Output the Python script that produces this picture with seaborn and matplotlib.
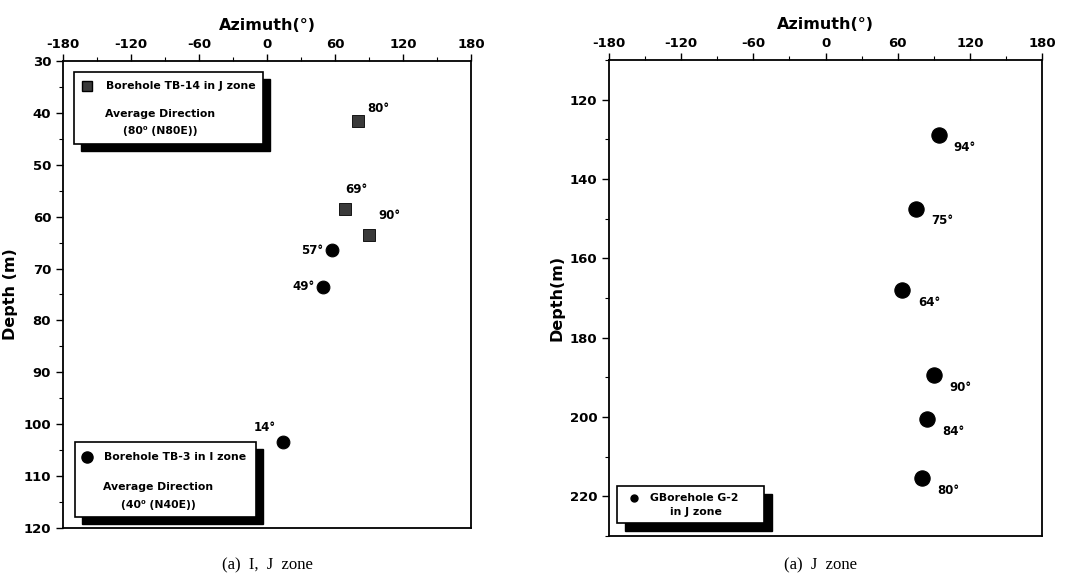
import matplotlib.pyplot as plt
import seaborn as sns
import pandas as pd
from matplotlib.patches import Rectangle
from matplotlib.ticker import MultipleLocator

# left panel: I, J zone
tb14_azimuth = [80, 69, 90]
tb14_depth = [41.5, 58.5, 63.5]
tb14_labels = ['80°', '69°', '90°']
tb3_azimuth = [57, 49, 14]
tb3_depth = [66.5, 73.5, 103.5]
tb3_labels = ['57°', '49°', '14°']

# right panel: J zone
g2_azimuth = [94, 75, 64, 90, 84, 80]
g2_depth = [129, 147.5, 168, 189.5, 200.5, 215.5]
g2_labels = ['94°', '75°', '64°', '90°', '84°', '80°']

W, H = 1075, 580


def px_box(fig, x0, y0, x1, y1, shadow=7):
    # white legend box with black drop shadow, given in pixel coords (top-down)
    fig.add_artist(Rectangle(((x0 + shadow) / W, 1 - (y1 + shadow) / H),
                             (x1 - x0) / W, (y1 - y0) / H,
                             transform=fig.transFigure, facecolor='black',
                             edgecolor='black', zorder=5))
    fig.add_artist(Rectangle((x0 / W, 1 - y1 / H), (x1 - x0) / W, (y1 - y0) / H,
                             transform=fig.transFigure, facecolor='white',
                             edgecolor='black', lw=1.2, zorder=6))


def px_text(fig, x, y, s, **kw):
    fig.text(x / W, 1 - y / H, s, zorder=7, fontweight='bold', **kw)


def px_marker(fig, x, y, **kw):
    fig.add_artist(plt.Line2D([x / W], [1 - y / H], transform=fig.transFigure,
                              zorder=7, **kw))


def style_axis(ax, ymin, ymax, ymajor, yminor):
    ax.set_xlim(-180, 180)
    ax.set_ylim(ymax, ymin)
    ax.xaxis.set_major_locator(MultipleLocator(60))
    ax.xaxis.set_minor_locator(MultipleLocator(30))
    ax.yaxis.set_major_locator(MultipleLocator(ymajor))
    ax.yaxis.set_minor_locator(MultipleLocator(yminor))
    ax.xaxis.tick_top()
    ax.xaxis.set_label_position('top')
    ax.tick_params(axis='x', which='major', direction='out', length=5, width=1,
                   labelsize=9.5, pad=2)
    ax.tick_params(axis='x', which='minor', direction='out', length=3, width=0.8)
    ax.tick_params(axis='y', which='major', direction='out', length=5, width=1,
                   labelsize=9.5)
    ax.tick_params(axis='y', which='minor', direction='out', length=3, width=0.8)
    for lab in ax.get_xticklabels() + ax.get_yticklabels():
        lab.set_fontweight('bold')
    for sp in ax.spines.values():
        sp.set_visible(True)
        sp.set_color('black')
        sp.set_linewidth(1.3)
    ax.set_xlabel('Azimuth(°)', fontsize=11.5, fontweight='bold', labelpad=6)


def main():
    sns.set_style('ticks')
    plt.rcParams['font.family'] = ['DejaVu Sans']
    plt.rcParams['axes.unicode_minus'] = False
    for k in ['text.color', 'axes.labelcolor', 'xtick.color', 'ytick.color']:
        plt.rcParams[k] = 'black'

    fig = plt.figure(figsize=(W / 100, H / 100), dpi=100)
    ax1 = fig.add_axes([63 / W, 1 - 528 / H, 408 / W, 467 / H])
    ax2 = fig.add_axes([609 / W, 1 - 536 / H, 433 / W, 476 / H])

    df14 = pd.DataFrame({'azimuth': tb14_azimuth, 'depth': tb14_depth})
    df3 = pd.DataFrame({'azimuth': tb3_azimuth, 'depth': tb3_depth})
    dfg = pd.DataFrame({'azimuth': g2_azimuth, 'depth': g2_depth})

    sns.scatterplot(data=df14, x='azimuth', y='depth', marker='s', s=75,
                    color='#3a3a3a', edgecolor='black', linewidth=0.6, ax=ax1)
    sns.scatterplot(data=df3, x='azimuth', y='depth', marker='o', s=85,
                    color='black', edgecolor='black', ax=ax1)
    sns.scatterplot(data=dfg, x='azimuth', y='depth', marker='o', s=120,
                    color='black', edgecolor='black', ax=ax2)

    offs14 = [(7, 4), (0, 9), (7, 9)]
    for x, y, t, o in zip(tb14_azimuth, tb14_depth, tb14_labels, offs14):
        ax1.annotate(t, (x, y), xytext=o, textcoords='offset points',
                     fontsize=8.5, fontweight='bold', ha='left', va='bottom')
    offs3 = [(-6, 0), (-6, 0), (-5, 6)]
    vas3 = ['center', 'center', 'bottom']
    for x, y, t, o, va in zip(tb3_azimuth, tb3_depth, tb3_labels, offs3, vas3):
        ax1.annotate(t, (x, y), xytext=o, textcoords='offset points',
                     fontsize=8.5, fontweight='bold', ha='right', va=va)
    for x, y, t in zip(g2_azimuth, g2_depth, g2_labels):
        ax2.annotate(t, (x, y), xytext=(11, -4), textcoords='offset points',
                     fontsize=8.5, fontweight='bold', ha='left', va='top')

    style_axis(ax1, 30, 120, 10, 5)
    style_axis(ax2, 110, 230, 20, 10)
    ax1.set_ylabel('Depth (m)', fontsize=11.5, fontweight='bold', labelpad=4)
    ax2.set_ylabel('Depth(m)', fontsize=11.5, fontweight='bold', labelpad=4)

    # legend boxes
    px_box(fig, 74, 72, 263, 144)
    px_marker(fig, 87, 86, marker='s', markersize=7, color='#3a3a3a',
              markeredgecolor='black', linestyle='none')
    px_text(fig, 106, 86, 'Borehole TB-14 in J zone', fontsize=7.8, va='center')
    px_text(fig, 160, 114, 'Average Direction', fontsize=7.8, va='center', ha='center')
    px_text(fig, 160, 131, '(80⁰ (N80E))', fontsize=7.8, va='center', ha='center')

    px_box(fig, 75, 442, 256, 517)
    px_marker(fig, 87, 457, marker='o', markersize=8, color='black', linestyle='none')
    px_text(fig, 104, 457, 'Borehole TB-3 in I zone', fontsize=7.8, va='center')
    px_text(fig, 158, 487, 'Average Direction', fontsize=7.8, va='center', ha='center')
    px_text(fig, 158, 505, '(40⁰ (N40E))', fontsize=7.8, va='center', ha='center')

    px_box(fig, 617, 486, 764, 523, shadow=8)
    px_marker(fig, 634, 498, marker='o', markersize=5, color='black', linestyle='none')
    px_text(fig, 650, 498, 'GBorehole G-2', fontsize=7.8, va='center')
    px_text(fig, 670, 512, 'in J zone', fontsize=7.8, va='center')

    # captions
    fig.text(267 / W, 1 - 565 / H, '(a)  I,  J  zone', family=['Liberation Serif'],
             fontsize=12, ha='center', va='center')
    fig.text(820 / W, 1 - 565 / H, '(a)  J  zone', family=['Liberation Serif'],
             fontsize=12, ha='center', va='center')

    fig.savefig('out.png', dpi=100)


if __name__ == '__main__':
    main()
